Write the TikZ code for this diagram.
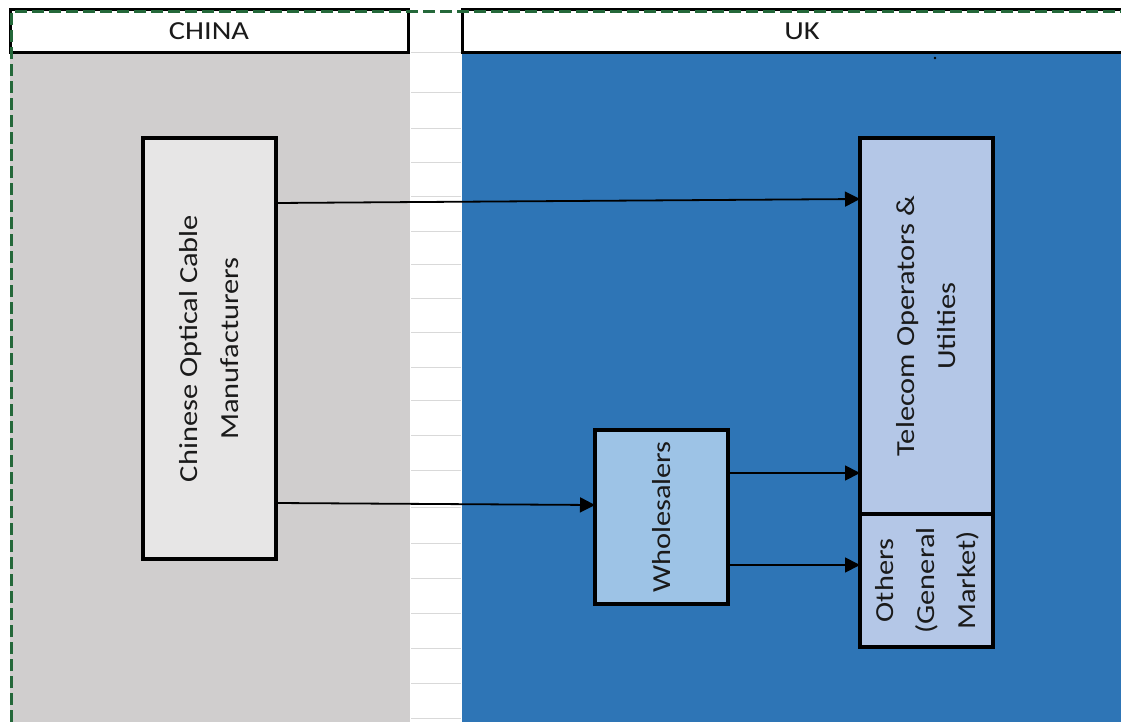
\documentclass[tikz,border=0pt]{standalone}
\usepackage{fontspec}
\setmainfont{Carlito}[FakeStretch=1.17]
\usepackage{graphicx}
\usetikzlibrary{arrows.meta}
\definecolor{cngray}{HTML}{D0CECE}
\definecolor{cnbox}{HTML}{E7E6E6}
\definecolor{ukblue}{HTML}{2E75B6}
\definecolor{telbox}{HTML}{B4C7E7}
\definecolor{whbox}{HTML}{9DC3E6}
\definecolor{dashgreen}{HTML}{24683A}
\definecolor{gridgray}{HTML}{D9D9D9}
\definecolor{txt}{HTML}{1A1A1A}
\tikzset{
  boxnode/.style={draw=black, line width=4pt, inner sep=0pt, outer sep=0pt, text=txt, font=\fontsize{26}{41}\selectfont},
  headbox/.style={draw=black, line width=3pt, fill=white, inner sep=0pt, outer sep=0pt, text=txt, font=\fontsize{26}{30}\selectfont},
  arr/.style={line width=1.8pt, -{Triangle[length=15pt,width=15pt]}},
  gridline/.style={gridgray, line width=1pt}
}
\begin{document}
\begin{tikzpicture}[x=1pt,y=-1pt]
\useasboundingbox (0,0) rectangle (1121,722);
\fill[white] (0,0) rectangle (1121,722);
% regions
\fill[cngray] (10,53) rectangle (410,722);
\fill[ukblue] (462,53) rectangle (1121,722);
% grid lines in gap
\foreach \yy in {53,93,129,163,197,231,264,298,332,367,400,435,470,507,543,578,613,648,683,718}
  \draw[gridline] (411,\yy) -- (461,\yy);
% headers
\node[headbox, minimum width=398pt, minimum height=43pt] (hcn) at (209,31.5) {CHINA};
\node[headbox, minimum width=680pt, minimum height=43pt] (huk) at (802,31.5) {UK};
% dashed border
\draw[dashgreen, line width=3pt, dash pattern=on 12pt off 5pt] (11,722) -- (11,12) -- (1121,12);
% small dot
\fill[black] (935,58) circle (1.3pt);
% boxes
\node[boxnode, fill=cnbox, minimum width=133pt, minimum height=421pt] (cn) at (209.5,348.5)
  {\rotatebox{90}{\begin{tabular}{@{}c@{}}Chinese Optical Cable\\Manufacturers\end{tabular}}};
\node[boxnode, fill=telbox, minimum width=133pt, minimum height=376pt] (tel) at (926.5,326)
  {\rotatebox{90}{\begin{tabular}{@{}c@{}}Telecom Operators \&\\Utilties\end{tabular}}};
\node[boxnode, fill=telbox, minimum width=133pt, minimum height=133pt] (oth) at (926.5,580.5)
  {\rotatebox{90}{\begin{tabular}{@{}c@{}}Others\\(General\\Market)\end{tabular}}};
\node[boxnode, fill=whbox, minimum width=133pt, minimum height=174pt] (wh) at (661.5,517)
  {\rotatebox{90}{Wholesalers}};
% connectors
\draw[arr] (cn.east |- 0,203) -- (tel.west |- 0,199);
\draw[arr] (cn.east |- 0,503) -- (wh.west |- 0,505);
\draw[arr] (wh.east |- 0,473) -- (tel.west |- 0,473);
\draw[arr] (wh.east |- 0,565) -- (oth.west |- 0,565);
\end{tikzpicture}
\end{document}
